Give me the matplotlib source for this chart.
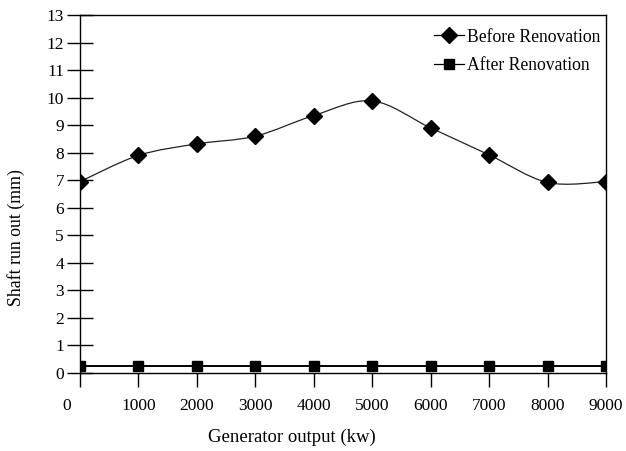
import matplotlib
matplotlib.use('Agg')
from matplotlib import pyplot as plt
from matplotlib.path import Path
from matplotlib.patches import PathPatch
from matplotlib.lines import Line2D
from matplotlib.transforms import ScaledTranslation

outputs = [0, 1000, 2000, 3000, 4000, 5000, 6000, 7000, 8000, 9000]
before = [6.95, 7.9, 8.32, 8.6, 9.35, 9.88, 8.9, 7.92, 6.92, 6.95]
after = [0.25, 0.25, 0.25, 0.25, 0.25, 0.25, 0.25, 0.25, 0.25, 0.25]
yticks = list(range(0, 14))


def smoothPath(xs, ys):
	# Excel-like smoothed line drawn as cubic bezier segments
	pts = list(zip(xs, ys))
	verts = [pts[0]]
	codes = [Path.MOVETO]
	n = len(pts)
	for i in range(n - 1):
		p0 = pts[i - 1] if i > 0 else pts[i]
		p1 = pts[i]
		p2 = pts[i + 1]
		p3 = pts[i + 2] if i + 2 < n else pts[i + 1]
		c1 = (p1[0] + (p2[0] - p0[0]) / 6.0, p1[1] + (p2[1] - p0[1]) / 6.0)
		c2 = (p2[0] - (p3[0] - p1[0]) / 6.0, p2[1] - (p3[1] - p1[1]) / 6.0)
		verts += [c1, c2, p2]
		codes += [Path.CURVE4] * 3
	return Path(verts, codes)


plt.rcParams['font.family'] = ['Liberation Serif', 'DejaVu Serif']

fig = plt.figure(figsize=(6.26, 4.51), dpi=100)
ax = fig.add_axes([80 / 626, 1 - 373 / 451, (606 - 80) / 626, (373 - 15) / 451])

ax.add_patch(PathPatch(smoothPath(outputs, before), facecolor='none',
	edgecolor='#222222', lw=0.9, zorder=3))
ax.plot(outputs, before, linestyle='none', marker='D', ms=8, color='black', zorder=4)
ax.plot(outputs, after, '-', marker='s', ms=7, color='black', lw=1.4, zorder=4)

ax.set_xlim(0, 9000)
ax.set_ylim(0, 13)
ax.set_xticks(outputs)
ax.set_xticklabels([str(o) for o in outputs])
ax.set_yticks(yticks)
ax.tick_params(axis='x', direction='out', length=10, width=1, pad=8, labelsize=12.5)
ax.tick_params(axis='y', direction='inout', length=19, width=1, pad=2, labelsize=12.5)
for s in ax.spines.values():
	s.set_linewidth(1)

# first label sits left of the axis in the original
lbl0 = ax.get_xticklabels()[0]
lbl0.set_transform(lbl0.get_transform() + ScaledTranslation(-13 / 100, 0, fig.dpi_scale_trans))

fig.text(292 / 626, 1 - 437 / 451, 'Generator output (kw)', ha='center', va='center', fontsize=13.5)
fig.text(16 / 626, 1 - 238 / 451, 'Shaft run out (mm)', ha='center', va='center',
	rotation=90, fontsize=12.8)

handles = [Line2D([], [], color='black', lw=0.9, marker='D', ms=8),
	Line2D([], [], color='black', lw=0.9, marker='s', ms=7)]
ax.legend(handles, ['Before Renovation', 'After Renovation'], loc='upper right',
	bbox_to_anchor=(1 - 2.5 / 526, 1 - 10 / 358),
	frameon=False, fontsize=12.7, handlelength=1.7, handletextpad=0.15,
	labelspacing=0.65, borderaxespad=0, borderpad=0.2)

fig.savefig('out.png', dpi=100)
